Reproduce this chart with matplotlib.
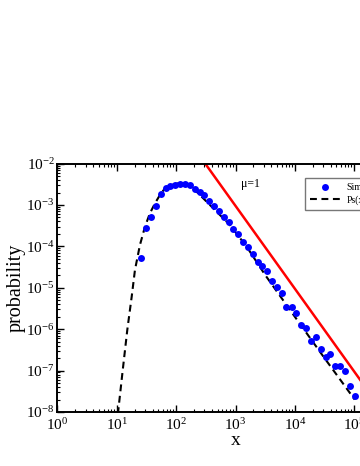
import matplotlib
matplotlib.use("Agg")
import matplotlib.pyplot as plt
import numpy as np

plt.rcParams['font.family'] = ['Liberation Serif', 'DejaVu Serif']
plt.rcParams['mathtext.fontset'] = 'stix'

# Simulation points
sim_x = [25.2, 30.6, 37.2, 45.2, 54.8, 66.1, 78.7, 94.4, 118, 141, 169, 207, 252, 296,
         361, 439, 526, 638, 767, 916, 1112, 1337, 1622, 1945, 2360, 2844, 3451, 4198,
         5058, 6109, 7211, 8831, 10641, 12677, 15382, 18664, 22387, 27227, 33037,
         39537, 47424, 57544, 69823, 83753, 101859]
sim_y = [5.25e-5, 2.83e-4, 5.21e-4, 9.62e-4, 1.81e-3, 2.53e-3, 2.83e-3, 2.99e-3, 3.30e-3,
         3.16e-3, 2.96e-3, 2.39e-3, 2.03e-3, 1.71e-3, 1.25e-3, 9.35e-4, 7.36e-4, 5.21e-4,
         3.78e-4, 2.63e-4, 1.97e-4, 1.31e-4, 9.51e-5, 6.55e-5, 4.13e-5, 3.40e-5, 2.58e-5,
         1.42e-5, 1.04e-5, 7.41e-6, 3.53e-6, 3.49e-6, 2.53e-6, 1.26e-6, 1.07e-6, 5.19e-7,
         6.59e-7, 3.29e-7, 2.09e-7, 2.56e-7, 1.29e-7, 1.29e-7, 1.00e-7, 4.32e-8, 2.37e-8]

# Theory curve Ps(x)
ps_x = [9.77, 10.6, 12.4, 15.0, 17.8, 20.2, 24.5, 29.8, 36.1, 44.0, 53.3, 64.7, 83.9,
        108, 141, 207, 422, 805, 1542, 3162, 10000, 31623, 102000]
ps_y = [2.5e-9, 1.12e-8, 8.61e-8, 9.57e-7, 6.10e-6, 2.69e-5, 1.08e-4, 2.99e-4, 6.31e-4,
        1.10e-3, 1.75e-3, 2.53e-3, 3.04e-3, 3.34e-3, 3.21e-3, 2.30e-3, 8.32e-4, 3.29e-4,
        9.84e-5, 2.04e-5, 2.0e-6, 2.0e-7, 2.0e-8]

# Power-law guide, slope -2 (mu=1)
guide_x = [300, 1e6]
guide_y = [1.06e-2, 9.5e-10]

fig = plt.figure(figsize=(3.6, 4.66), dpi=100)
ax = fig.add_axes([0.1597, 0.1159, 0.989, 0.533])

ax.plot(guide_x, guide_y, color='#ff0000', lw=1.8, zorder=2)
ax.plot(ps_x, ps_y, color='black', lw=1.5, linestyle=(0, (3.3, 2.2)), zorder=3, label='Ps(x)')
ax.plot(sim_x, sim_y, 'o', color='#0000ff', markersize=5, markeredgewidth=0, zorder=4,
        label='Simulation')

ax.set_xscale('log')
ax.set_yscale('log')
ax.set_xlim(1, 1e6)
ax.set_ylim(1e-8, 1e-2)

ax.tick_params(which='both', direction='in', top=True, right=True, labelsize=11)
ax.tick_params(which='major', length=5, width=1)
ax.tick_params(which='minor', length=2.5, width=0.8)
ax.tick_params(axis='y', pad=2)
ax.tick_params(axis='x', pad=4)
ax.xaxis.set_major_locator(matplotlib.ticker.LogLocator(base=10, numticks=10))
ax.xaxis.set_minor_locator(matplotlib.ticker.LogLocator(base=10, subs=np.arange(2, 10), numticks=20))
ax.yaxis.set_minor_locator(matplotlib.ticker.LogLocator(base=10, subs=np.arange(2, 10), numticks=20))
for s in ax.spines.values():
    s.set_linewidth(1.4)

ax.set_xlabel('x', fontsize=14, labelpad=-1)
ax.set_ylabel('probability', fontsize=14.5, labelpad=0)

ax.text(1780, 3.3e-3, 'μ=1', fontsize=8.5, ha='center', va='center')

h, l = ax.get_legend_handles_labels()
leg = ax.legend([h[1], h[0]], [l[1], l[0]], loc='upper left',
                bbox_to_anchor=(305 / 360, 1 - 178.3 / 466), bbox_transform=fig.transFigure,
                fontsize=7, frameon=True, fancybox=False, edgecolor='#555555',
                handlelength=3.1, handletextpad=0.7, borderpad=0.5, labelspacing=0.3,
                borderaxespad=0, numpoints=1)
leg.get_frame().set_linewidth(1.0)

fig.savefig('out.png', dpi=100)
